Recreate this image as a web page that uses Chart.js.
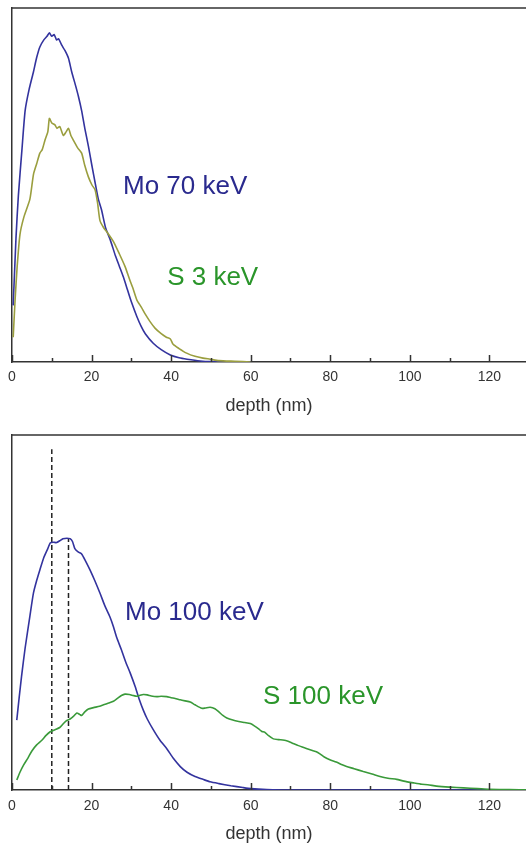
<!DOCTYPE html>
<html>
<head>
<meta charset="utf-8">
<script src="https://cdn.jsdelivr.net/npm/chart.js@4.4.1/dist/chart.umd.min.js"></script>
<style>
  html, body { margin: 0; padding: 0; background: #ffffff; }
  #wrap { position: relative; width: 526px; height: 845px; overflow: hidden; }
  canvas { display: block; }
</style>
</head>
<body>
<div id="wrap">
  <canvas id="top" width="526" height="420"></canvas>
  <canvas id="bottom" width="526" height="425"></canvas>
</div>
<script>
// ---------- data (depth in nm, relative intensity 0..100) ----------
const xTickValues = [0, 20, 40, 60, 80, 100, 120];
const xMinorTicks = [10, 30, 50, 70, 90, 110];
const xAxisTitle = 'depth (nm)';

// top panel
const mo70Depth = [0.3,1,1.6,2.5,3.3,4.3,5.4,6.2,7,8,8.8,9.4,10,10.6,11.2,11.7,12.5,13.3,14.2,15,16,16.7,17.5,18.3,19.2,20,21,21.7,22.5,23.5,24.7,26,27,28,29,30,31.4,32.5,33.5,35.5,37.5,39.8,42,44,47.3,50,55,60];
const mo70Value = [16,35,47,60,71,77,82,86,89,91,92,93,92,92.5,91,91.3,89.5,88,85.8,82,78,75,71,66,61,56,50,46,43,38,34.5,30,27,24,20.5,17,12.8,10,8,5.3,3.5,2,1.2,0.8,0.3,0.1,0,0];

const s3Depth = [0.3,0.8,1.3,2,3,4.5,5.4,6.2,7,7.6,8.3,9,9.4,10,10.8,11.3,12,12.9,13.6,14.2,14.8,15.4,16.5,17.5,18.3,19.2,20.1,20.9,21.5,22.1,23,24,25.5,27,28.4,29.5,30.5,31.4,32.5,33.5,34.7,36,37.5,38.8,39.8,40.5,42,43.9,46,48,49.8,52,56,60];
const s3Value = [7,18,27,36,41,46,53,56,59,60,62.7,65,68.8,67.5,67,66,66.5,64,65,66,64,62.7,60.5,59,55.5,52.3,50,48.6,45,40,38,36.5,34,30.5,27,23.5,20.5,17.5,15.5,13.5,11.4,9.5,8,7,6.5,5,3.8,2.5,1.6,1.1,0.8,0.4,0.2,0];

// bottom panel
const mo100Depth = [1.2,1.8,2.4,3.3,4.5,5.4,6.2,7,8,9,9.6,10.4,11.2,12,12.8,13.8,14.6,15.2,15.8,16.7,17.5,18.5,19.6,20.8,22.1,23.3,24.6,25.5,26.3,27.5,28.6,29.7,31,32,33,34,35.5,37.2,39,40.5,42.3,44,46,48,49.8,52,55,58,60,63,66,70,130];
const mo100Value = [19.7,26,32,40,49,55.5,59,62,65.5,68,69.6,69.8,69.7,70.2,70.8,70.9,70.8,70,68,67,66.5,64.5,62,59,55.5,52,48.8,46,43,39.5,36,33,29,25.5,22.5,20,17,14,11.5,9,6.6,5,3.8,3,2.3,1.8,1.2,0.7,0.4,0.2,0.05,0,0];

const s100Depth = [1.2,2,2.9,4,5,6.2,7.5,8.5,9.6,10.8,12,13,13.8,14.6,15.5,16.3,17,17.5,18.3,19.2,20.5,22,23,24.3,25.5,26.5,27.5,28.4,29.5,30.5,31.4,32,33,34,35,36.4,37.5,38.9,40,41,42.3,43.5,44.8,46,47.7,48.6,49.8,51,52,53,54,55.5,57,58.5,59.9,61,62,62.8,63.5,64.5,65.7,67,69,70.5,72,74,75.5,76.5,77.4,78.5,79.9,81.5,83,84.1,86,88.3,90.5,92.5,94.5,96.7,98.5,100.9,103,104.5,106.7,110,113.5,117,120,125,130];
const s100Value = [2.8,5,7,9,11,12.7,14,15.3,16.4,17,17.6,18.8,19.6,20,20.8,21.7,21.3,21,22,22.8,23.2,23.6,24,24.5,25,25.8,26.6,27,26.9,26.6,26.4,26.6,26.9,26.8,26.5,26.3,26.4,26.3,26,25.8,25.4,25.1,24.8,24,23,23.1,23.3,22.9,22,21,20.3,19.7,19.3,19,18.7,18,17.2,16.5,16.3,15.3,14.4,14.2,13.9,13.2,12.5,11.7,11.1,10.8,10.2,9.3,8.5,7.9,7.1,6.6,6,5.2,4.5,3.8,3.3,3,2.5,2,1.6,1.5,1.1,0.8,0.6,0.4,0.2,0.1,0.05];

// dashed markers (bottom panel)
const dashDepths = [10, 14.2];
const dashTops = [96, 71];

// annotations
const topLabels = [
  { text: 'Mo 70 keV', x: 27.9, y: 49.4, color: '#2a2a8e' },
  { text: 'S 3 keV', x: 39.0, y: 23.7, color: '#2a952a' }
];
const bottomLabels = [
  { text: 'Mo 100 keV', x: 28.4, y: 49.9, color: '#2a2a8e' },
  { text: 'S 100 keV', x: 63.1, y: 26.2, color: '#2a952a' }
];

// ---------- helpers ----------
const toXY = (xs, ys) => xs.map((v, i) => ({ x: v, y: ys[i] }));
const FONT = '"Liberation Sans", Arial, sans-serif';

const framePlugin = {
  id: 'frame',
  afterDraw(chart, args, opts) {
    const { ctx, chartArea: { left, right, top, bottom }, scales: { x, y } } = chart;
    ctx.save();
    ctx.strokeStyle = '#333';
    ctx.lineWidth = 1.5;
    ctx.beginPath();
    ctx.moveTo(left - 0.75, top);
    ctx.lineTo(right, top);
    ctx.stroke();
    ctx.beginPath();
    xTickValues.forEach(v => {
      const px = Math.round(x.getPixelForValue(v)) + 0.5;
      ctx.moveTo(px, bottom);
      ctx.lineTo(px, bottom - 7);
    });
    xMinorTicks.forEach(v => {
      const px = Math.round(x.getPixelForValue(v)) + 0.5;
      ctx.moveTo(px, bottom);
      ctx.lineTo(px, bottom - 4);
    });
    ctx.stroke();
    ctx.textAlign = 'left';
    ctx.textBaseline = 'middle';
    ctx.font = '26px ' + FONT;
    (opts.labels || []).forEach(l => {
      ctx.fillStyle = l.color;
      ctx.fillText(l.text, x.getPixelForValue(l.x), y.getPixelForValue(l.y));
    });
    ctx.restore();
  }
};

function makeOptions(cfg) {
  return {
    responsive: false,
    animation: false,
    layout: { padding: { left: 12, top: cfg.padTop, right: 0, bottom: 0 } },
    plugins: {
      legend: { display: false },
      tooltip: { enabled: false },
      frame: { labels: cfg.labels }
    },
    elements: { point: { radius: 0 }, line: { tension: 0.2 } },
    scales: {
      x: {
        type: 'linear',
        min: 0,
        max: 129.2,
        afterBuildTicks: s => { s.ticks = xTickValues.map(v => ({ value: v })); },
        afterFit: s => { s.height = cfg.axisHeight; },
        grid: { display: false, drawTicks: false },
        border: { display: true, color: '#333', width: 1.5 },
        ticks: {
          padding: cfg.tickPad,
          maxRotation: 0,
          autoSkip: false,
          color: '#333',
          font: { family: FONT, size: 14 }
        },
        title: {
          display: true,
          text: xAxisTitle,
          color: '#333',
          font: { family: FONT, size: 18 },
          padding: { top: 0, bottom: cfg.titlePad }
        }
      },
      y: {
        type: 'linear',
        min: 0,
        max: 100,
        afterFit: s => { s.width = 0; },
        grid: { display: false, drawTicks: false },
        border: { display: true, color: '#333', width: 1.5 },
        ticks: { display: false }
      }
    }
  };
}

new Chart(document.getElementById('top'), {
  type: 'line',
  data: {
    datasets: [
      { label: 'S 3 keV', data: toXY(s3Depth, s3Value), borderColor: '#9a9e3e', borderWidth: 1.6, fill: false },
      { label: 'Mo 70 keV', data: toXY(mo70Depth, mo70Value), borderColor: '#33339e', borderWidth: 1.6, fill: false }
    ]
  },
  options: makeOptions({ padTop: 8, axisHeight: 58, tickPad: 7, titlePad: 3, labels: topLabels }),
  plugins: [framePlugin]
});

new Chart(document.getElementById('bottom'), {
  type: 'line',
  data: {
    datasets: [
      { label: 'S 100 keV', data: toXY(s100Depth, s100Value), borderColor: '#3a9a3a', borderWidth: 1.6, fill: false },
      { label: 'Mo 100 keV', data: toXY(mo100Depth, mo100Value), borderColor: '#33339e', borderWidth: 1.6, fill: false },
      { label: 'dash1', data: [{ x: dashDepths[0], y: 0 }, { x: dashDepths[0], y: dashTops[0] }], borderColor: '#222', borderWidth: 1.5, borderDash: [5, 3], tension: 0 },
      { label: 'dash2', data: [{ x: dashDepths[1], y: 0 }, { x: dashDepths[1], y: dashTops[1] }], borderColor: '#222', borderWidth: 1.5, borderDash: [5, 3], tension: 0 }
    ]
  },
  options: makeOptions({ padTop: 15, axisHeight: 55, tickPad: 8, titlePad: 0, labels: bottomLabels }),
  plugins: [framePlugin]
});
</script>
</body>
</html>
